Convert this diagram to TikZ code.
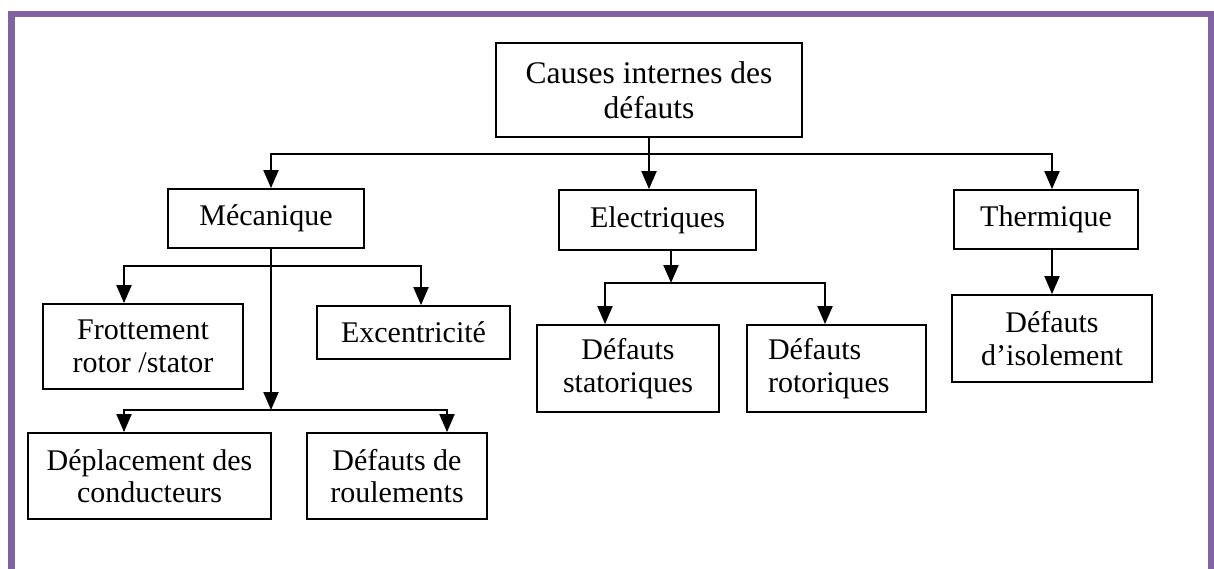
\documentclass[tikz,border=0pt]{standalone}
\usepackage{fontspec}
\setmainfont{Liberation Serif}
\usetikzlibrary{arrows.meta}
\definecolor{framepurple}{RGB}{128,100,162}
\begin{document}
\begin{tikzpicture}[x=1pt,y=-1pt,
  box/.style={draw,line width=1.8pt,rectangle,inner sep=0pt,align=center,
    font=\fontsize{30}{32.5}\selectfont},
  link/.style={line width=2pt,line cap=rect},
  arr/.style={line width=2pt,-{Triangle[length=18pt,width=15pt]}}]
\useasboundingbox (0,0) rectangle (1214,568);
% outer frame (open at the bottom)
\begin{scope}
\clip (0,0) rectangle (1214,568);
\draw[framepurple,line width=6.5pt] (11.5,590) -- (11.5,14) -- (1211,14) -- (1211,590);
\end{scope}

% boxes
\node[box,font=\fontsize{31.5}{35}\selectfont,minimum width=306pt,minimum height=94pt] (root) at (649,90) {Causes internes des\\défauts};
\node[box,minimum width=196pt,minimum height=59pt] (mec) at (266,218.5) {Mécanique};
\node[box,minimum width=197pt,minimum height=60pt] (elec) at (657.5,220) {Electriques};
\node[box,minimum width=184pt,minimum height=59pt] (therm) at (1046,219.5) {Thermique};
\node[box,minimum width=200pt,minimum height=85pt] (frot) at (143,346.5) {Frottement\\rotor /stator};
\node[box,minimum width=193pt,minimum height=53pt] (exc) at (413.5,332.5) {Excentricité};
\node[box,minimum width=243pt,minimum height=86pt] (depl) at (149.5,476) {Déplacement des\\conducteurs};
\node[box,minimum width=180pt,minimum height=86pt] (roul) at (397,476) {Défauts de\\roulements};
\node[box,minimum width=182pt,minimum height=87pt] (stat) at (628,368.5) {Défauts\\statoriques};
\node[box,align=left,text width=137pt,inner xsep=21pt,minimum height=87pt] (rotor) at (836.5,368.5) {Défauts\\rotoriques};
\node[box,minimum width=200pt,minimum height=87pt] (isol) at (1052,338.5) {Défauts\\d’isolement};

% first level
\coordinate (tl) at (271,154);
\coordinate (tr) at (1052,154);
\draw[link] (tl) -- (tr);
\draw[arr] (root.south) -- (root.south |- elec.north);
\draw[arr] (tl) -- (tl |- mec.north);
\draw[arr] (tr) -- (tr |- therm.north);

% mechanical branch
\coordinate (mb) at (271,266);
\coordinate (mbl) at (124,266);
\coordinate (mbr) at (421,266);
\draw[link] (mbl) -- (mbr);
\draw[arr] (mbl) -- (mbl |- frot.north);
\draw[arr] (mbr) -- (mbr |- exc.north);
\coordinate (lb) at (271,410);
\coordinate (lbl) at (124,410);
\coordinate (lbr) at (447,410);
\draw[arr] (mb |- mec.south) -- (lb);
\draw[link] (lbl) -- (lbr);
\draw[arr] (lbl) -- (lbl |- depl.north);
\draw[arr] (lbr) -- (lbr |- roul.north);

% electrical branch
\coordinate (eb) at (671,283);
\coordinate (ebl) at (605,283);
\coordinate (ebr) at (825,283);
\draw[arr] (eb |- elec.south) -- (eb);
\draw[link] (ebl) -- (ebr);
\draw[arr] (ebl) -- (ebl |- stat.north);
\draw[arr] (ebr) -- (ebr |- rotor.north);

% thermal branch
\draw[arr] (isol.north |- therm.south) -- (isol.north);
\end{tikzpicture}
\end{document}
